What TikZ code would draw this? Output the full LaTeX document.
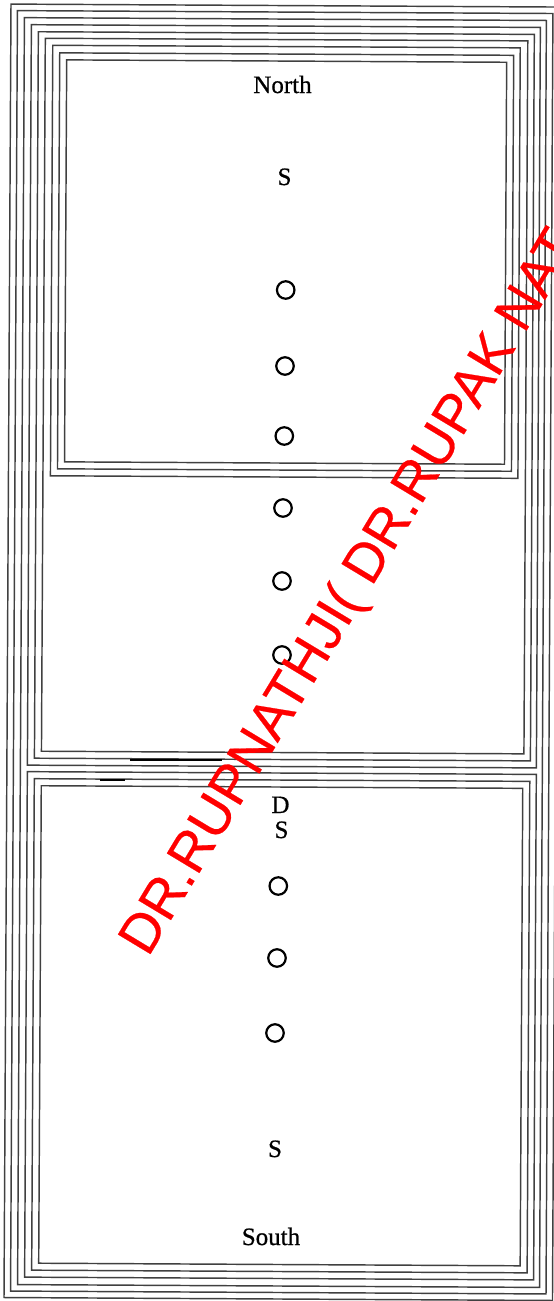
\documentclass[tikz,border=0pt]{standalone}
\usepackage{fontspec}
\setmainfont{Liberation Serif}
\newfontfamily\lblfont[FakeBold=0.7]{Liberation Serif}
\newfontfamily\wmfont[FakeBold=0.4]{Liberation Sans}
\begin{document}
\begin{tikzpicture}[x=1pt,y=-1pt,
  frame/.style={draw=black!75, line width=1.45pt},
  ring/.style={circle, draw=black, line width=2.2pt, minimum size=17.5pt, inner sep=0pt},
  lbl/.style={font=\lblfont\fontsize{25}{30}\selectfont, inner sep=0pt, anchor=base, text=black},
  smudge/.style={draw=black, line width=2pt},
  wm/.style={font=\wmfont\fontsize{55}{63}\selectfont, text=red, inner sep=0pt, anchor=base west, rotate=58.9}]
\useasboundingbox (0,0) rectangle (554,1301);
\clip (0,0) rectangle (554,1301);
\fill[white] (0,0) rectangle (554,1301);
\begin{scope}[rotate around={-0.31:(277,650)}]
  % outer frames
  \draw[frame] (7.5,5.5) rectangle (556,1299);
  \draw[frame] (14,12) rectangle (549.5,1292.5);
  \draw[frame] (21,19) rectangle (543,1286);
  % upper group (north and middle)
  \draw[frame] (28,26) rectangle (537,766.5);
  \draw[frame] (35,33) rectangle (531,759.5);
  \draw[frame] (42,39.5) rectangle (524.5,752.5);
  % north panel
  \draw[frame] (49.5,46.5) rectangle (517,477);
  \draw[frame] (56.5,54) rectangle (510.5,470);
  \draw[frame] (63.5,61) rectangle (503.5,463);
  % south panel
  \draw[frame] (28,773) rectangle (537,1278.5);
  \draw[frame] (35,780) rectangle (530.5,1271.5);
  \draw[frame] (42,787) rectangle (523.5,1264.5);
\end{scope}
% small dark marks of the print
\coordinate (m1a) at (130,759.5); \coordinate (m1b) at (222,759.5);
\coordinate (m2a) at (100,780); \coordinate (m2b) at (125,780);
\draw[smudge] (m1a) -- (m1b);
\draw[smudge] (m2a) -- (m2b);
% labels
\node[lbl] (north) at (282.5,93) {North};
\node[lbl] (s1) at (284.5,185) {S};
\node[lbl] (d1) at (280.5,813) {D};
\node[lbl] (s2) at (281.5,838) {S};
\node[lbl] (s3) at (275,1157) {S};
\node[lbl] (south) at (271,1245) {South};
% rings
\node[ring] (c1) at (285.7,290) {};
\node[ring] (c2) at (285,366) {};
\node[ring] (c3) at (284.3,436) {};
\node[ring] (c4) at (283,508) {};
\node[ring] (c5) at (282,581) {};
\node[ring] (c6) at (282,655) {};
\node[ring] (c7) at (278.3,886) {};
\node[ring] (c8) at (277,958) {};
\node[ring] (c9) at (275,1033) {};
% watermark
\node[wm] (mark) at (148,958) {DR.RUPNATHJI( DR.RUPAK NAT};
\end{tikzpicture}
\end{document}
